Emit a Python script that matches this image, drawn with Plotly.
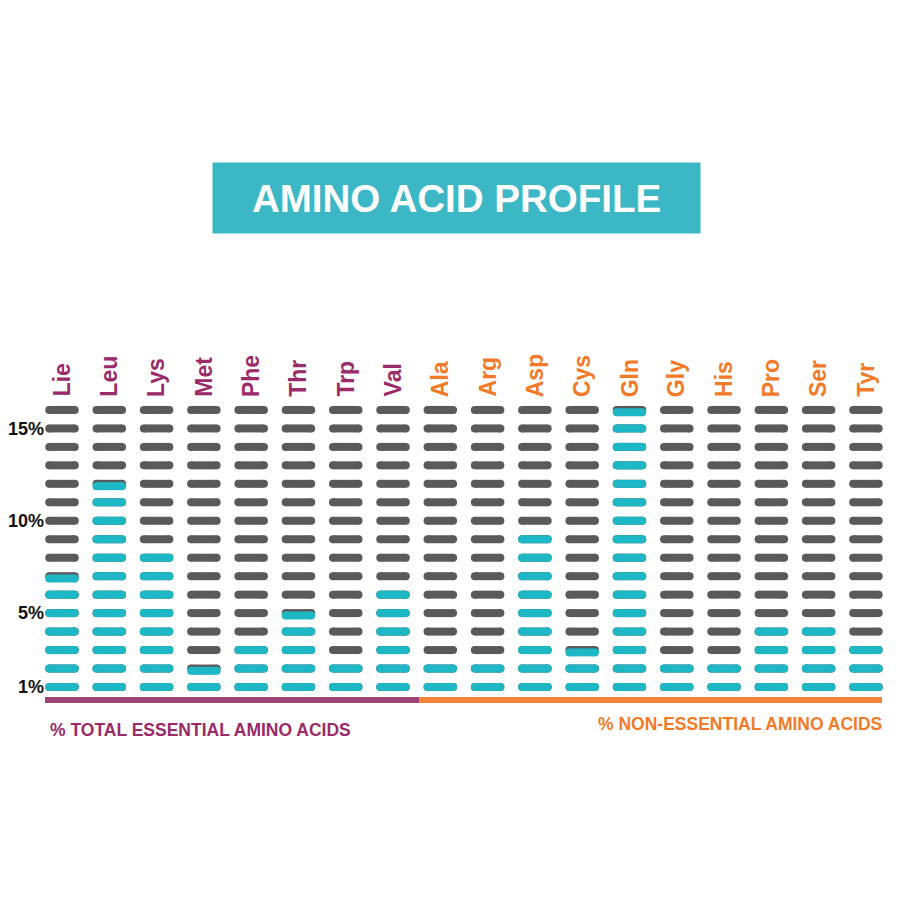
import math
import plotly.graph_objects as go

# ---- data ----
essential = ["Lie", "Leu", "Lys", "Met", "Phe", "Thr", "Trp", "Val"]
essential_vals = [6.7, 11.7, 8.0, 1.7, 3.0, 4.7, 2.0, 6.0]
nonessential = ["Ala", "Arg", "Asp", "Cys", "Gln", "Gly", "His", "Pro", "Ser", "Tyr"]
nonessential_vals = [2.0, 2.0, 9.0, 2.7, 15.7, 2.0, 2.0, 4.0, 4.0, 3.0]
levels = list(range(1, 17))               # one dash per 1%
tick_vals = [1, 5, 10, 15]
tick_text = ["1%", "5%", "10%", "15%"]

names = essential + nonessential
values = essential_vals + nonessential_vals

GREY = "#5a5a5a"
TEAL = "#1db7c6"
PURPLE = "#9a2a68"
PURPLE_BAR = "#9c4576"
ORANGE = "#f27a28"
ORANGE_BAR = "#f3843a"

HW = 0.27        # half-length of a dash (category units)
DASH_H = 0.42    # dash thickness in row units (for partial offset)

# page geometry (browser body margin offsets the figure by 8px)
OFF = 8
W = H = 900
L = 37


def paper_x(p):
    return (p - OFF - L) / (W - L)


def paper_y(p):
    return 1 - (p - OFF) / H


def segs(items):
    xs, ys = [], []
    for (x, y) in items:
        xs += [x - HW, x + HW, None]
        ys += [y, y, None]
    return xs, ys


grey_items = [(i, lv) for i in range(len(names)) for lv in levels]
teal_items = []
for i, v in enumerate(values):
    full = int(math.floor(v + 1e-9))
    for lv in range(1, full + 1):
        teal_items.append((i, lv))
    frac = v - full
    if frac > 1e-6:
        teal_items.append((i, full + 1 - (1 - frac) * DASH_H))

fig = go.Figure()
for items, col in [(grey_items, GREY), (teal_items, TEAL)]:
    xs, ys = segs(items)
    fig.add_trace(go.Scatter(
        x=xs, y=ys, mode="lines+markers",
        line=dict(color=col, width=8),
        marker=dict(color=col, size=8, symbol="circle"),
        hoverinfo="skip", showlegend=False, cliponaxis=False))

# group bars under the columns
n_ess = len(essential)
n_all = len(names)
bar_y = 0.3
fig.add_trace(go.Scatter(x=[-0.36, n_ess - 0.45], y=[bar_y, bar_y], mode="lines",
                         line=dict(color=PURPLE_BAR, width=6), hoverinfo="skip",
                         showlegend=False, cliponaxis=False))
fig.add_trace(go.Scatter(x=[n_ess - 0.45, n_all - 1 + 0.34], y=[bar_y, bar_y], mode="lines",
                         line=dict(color=ORANGE_BAR, width=6), hoverinfo="skip",
                         showlegend=False, cliponaxis=False))

# column labels (rotated)
for i, nm in enumerate(names):
    fig.add_annotation(x=i, y=16.6, text=nm, showarrow=False, textangle=-90,
                       xanchor="center", yanchor="bottom",
                       font=dict(family="Liberation Sans, Arial, sans-serif", size=23,
                                 color=PURPLE if i < n_ess else ORANGE, weight="bold"))

# title box
fig.add_annotation(xref="paper", yref="paper", x=paper_x(456.5), y=paper_y(198),
                   text="AMINO ACID PROFILE", showarrow=False,
                   xanchor="center", yanchor="middle",
                   width=487, height=70, bgcolor="#3cb7c6", borderpad=0,
                   font=dict(family="Liberation Sans, Arial, sans-serif", size=38.5,
                             color="white", weight="bold"))

# bottom captions
fig.add_annotation(xref="paper", yref="paper", x=paper_x(48), y=paper_y(730),
                   text="% TOTAL ESSENTIAL AMINO ACIDS", showarrow=False,
                   xanchor="left", yanchor="middle",
                   font=dict(family="Liberation Sans Narrow, Liberation Sans, Arial, sans-serif",
                             size=17.5, color=PURPLE, weight="bold"))
fig.add_annotation(xref="paper", yref="paper", x=paper_x(884), y=paper_y(724),
                   text="% NON-ESSENTIAL AMINO ACIDS", showarrow=False,
                   xanchor="right", yanchor="middle",
                   font=dict(family="Liberation Sans Narrow, Liberation Sans, Arial, sans-serif",
                             size=17.5, color=ORANGE, weight="bold"))

# axes: pixel geometry -> data ranges
sx = 47.29
x0 = -(62 - OFF - L) / sx
x1 = x0 + (W - L) / sx
sy = 18.47
row1 = 687 - OFF
y0 = 1 - (H - row1) / sy
y1 = 1 + row1 / sy

fig.update_layout(
    width=W, height=H,
    margin=dict(l=L, r=0, t=0, b=0, autoexpand=False),
    paper_bgcolor="white", plot_bgcolor="white",
    xaxis=dict(range=[x0, x1], visible=False, fixedrange=True, automargin=False),
    yaxis=dict(range=[y0, y1], tickvals=tick_vals, ticktext=tick_text,
               showgrid=False, zeroline=False, showline=False, ticks="",
               ticklabelstandoff=0, automargin=False,
               tickfont=dict(family="Liberation Sans, Arial, sans-serif", size=18,
                             color="#111111", weight="bold"),
               fixedrange=True),
)

fig.write_html("out.html")
